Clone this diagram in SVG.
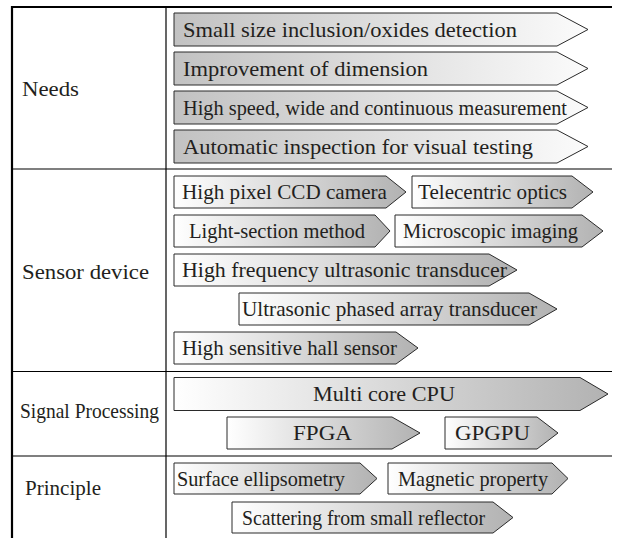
<svg xmlns="http://www.w3.org/2000/svg" width="619" height="538" viewBox="0 0 619 538">
<defs>
<linearGradient id="gN" x1="0" y1="0" x2="1" y2="0">
<stop offset="0" stop-color="#c2c2c2"/>
<stop offset="1" stop-color="#fbfbfb"/>
</linearGradient>
<linearGradient id="gS" x1="0" y1="0" x2="1" y2="0">
<stop offset="0" stop-color="#ffffff"/>
<stop offset="1" stop-color="#b2b2b2"/>
</linearGradient>
<style>
.n path{fill:url(#gN);stroke:#2a2a2a;stroke-width:1}
.s path{fill:url(#gS);stroke:#2a2a2a;stroke-width:1}
text{font-size:22px;fill:#231f20;font-family:"Liberation Serif","Times New Roman",serif}
.grid{stroke:#000;fill:none}
</style>
</defs>
<rect width="619" height="538" fill="#fff"/>
<g id="table">
<line class="grid" x1="11" y1="7" x2="612" y2="7" stroke-width="2.2"/>
<line class="grid" x1="12" y1="6" x2="12" y2="538" stroke-width="2.2"/>
<line class="grid" x1="166" y1="7" x2="166" y2="538" stroke-width="1.2"/>
<line class="grid" x1="12" y1="169" x2="612" y2="169" stroke-width="1.2"/>
<line class="grid" x1="12" y1="371.5" x2="612" y2="371.5" stroke-width="1.2"/>
<line class="grid" x1="12" y1="456" x2="612" y2="456" stroke-width="1.2"/>
</g>
<g id="labels">
<text x="22" y="96" textLength="57" lengthAdjust="spacingAndGlyphs">Needs</text>
<text x="22" y="279" textLength="127" lengthAdjust="spacingAndGlyphs">Sensor device</text>
<text x="20" y="418" textLength="139" lengthAdjust="spacingAndGlyphs">Signal Processing</text>
<text x="25" y="495" textLength="76" lengthAdjust="spacingAndGlyphs">Principle</text>
</g>
<g id="needs-1" class="n"><path d="M174,13 H557 L588,29.5 L557,46 H174 Z"/><text x="183" y="37" textLength="334" lengthAdjust="spacingAndGlyphs">Small size inclusion/oxides detection</text></g>
<g id="needs-2" class="n"><path d="M174,52 H557 L588,68.5 L557,85 H174 Z"/><text x="183" y="76" textLength="245" lengthAdjust="spacingAndGlyphs">Improvement of dimension</text></g>
<g id="needs-3" class="n"><path d="M174,91 H557 L588,107.5 L557,124 H174 Z"/><text x="183" y="115" textLength="384" lengthAdjust="spacingAndGlyphs">High speed, wide and continuous measurement</text></g>
<g id="needs-4" class="n"><path d="M174,130 H557 L588,146.5 L557,163 H174 Z"/><text x="183" y="154" textLength="350" lengthAdjust="spacingAndGlyphs">Automatic inspection for visual testing</text></g>
<g id="sensor-1" class="s"><path d="M174,176 H386 L406,192 L386,208 H174 Z"/><text x="182" y="199" textLength="205" lengthAdjust="spacingAndGlyphs">High pixel CCD camera</text></g>
<g id="sensor-2" class="s"><path d="M412,176 H572 L593,192 L572,208 H412 Z"/><text x="418" y="199" textLength="149" lengthAdjust="spacingAndGlyphs">Telecentric optics</text></g>
<g id="sensor-3" class="s"><path d="M174,215 H375 L390,231 L375,247 H174 Z"/><text x="189" y="238" textLength="176" lengthAdjust="spacingAndGlyphs">Light-section method</text></g>
<g id="sensor-4" class="s"><path d="M395,215 H582 L603,231 L582,247 H395 Z"/><text x="403" y="238" textLength="175" lengthAdjust="spacingAndGlyphs">Microscopic imaging</text></g>
<g id="sensor-5" class="s"><path d="M174,254 H489 L517,270 L489,286 H174 Z"/><text x="182" y="277" textLength="325" lengthAdjust="spacingAndGlyphs">High frequency ultrasonic transducer</text></g>
<g id="sensor-6" class="s"><path d="M239,293 H529 L557,309 L529,325 H239 Z"/><text x="242" y="316" textLength="295" lengthAdjust="spacingAndGlyphs">Ultrasonic phased array transducer</text></g>
<g id="sensor-7" class="s"><path d="M174,332 H396 L418,348 L396,364 H174 Z"/><text x="182" y="355" textLength="215" lengthAdjust="spacingAndGlyphs">High sensitive hall sensor</text></g>
<g id="signal-1" class="s"><path d="M174,377.5 H580 L608,394 L580,410.5 H174 Z"/><text x="313" y="401" textLength="142" lengthAdjust="spacingAndGlyphs">Multi core CPU</text></g>
<g id="signal-2" class="s"><path d="M227,417 H392 L420,433 L392,449 H227 Z"/><text x="293" y="440" textLength="59" lengthAdjust="spacingAndGlyphs">FPGA</text></g>
<g id="signal-3" class="s"><path d="M445,417 H537 L558,433 L537,449 H445 Z"/><text x="455" y="440" textLength="75" lengthAdjust="spacingAndGlyphs">GPGPU</text></g>
<g id="principle-1" class="s"><path d="M174,463 H360 L377,478.5 L360,494 H174 Z"/><text x="177" y="485.5" textLength="168" lengthAdjust="spacingAndGlyphs">Surface ellipsometry</text></g>
<g id="principle-2" class="s"><path d="M388,463 H552 L568,478.5 L552,494 H388 Z"/><text x="398" y="485.5" textLength="150" lengthAdjust="spacingAndGlyphs">Magnetic property</text></g>
<g id="principle-3" class="s"><path d="M232,502 H493 L513,517.5 L493,533 H232 Z"/><text x="242" y="524.5" textLength="243" lengthAdjust="spacingAndGlyphs">Scattering from small reflector</text></g>
<g id="connectors"/>
</svg>
